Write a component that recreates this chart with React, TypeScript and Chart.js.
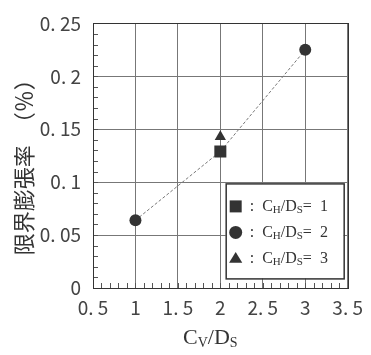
import React, { useEffect, useRef } from "react";
import { Chart, registerables } from "chart.js";

Chart.register(...registerables);

// C_V/D_S values where tests were made
const cvOverDs = [1, 2, 3];
// 限界膨張率 (%) for each C_H/D_S group
const chRatio1 = [null, 0.129, null]; // C_H/D_S = 1
const chRatio2 = [0.064, null, 0.225]; // C_H/D_S = 2
const chRatio3 = [null, 0.143, null]; // C_H/D_S = 3
// trend line through the measured points
const trendY = [0.064, 0.129, 0.225];

const legendLabels = ["1", "2", "3"];
const legendShapes = ["rect", "circle", "triangle"];

const xTicks = [0.5, 1, 1.5, 2, 2.5, 3, 3.5];
const yTicks = [0, 0.05, 0.1, 0.15, 0.2, 0.25];

const MARK = "#333333";
const SERIF = "'Liberation Serif', 'Times New Roman', serif";
const GOTHIC = "'Noto Sans CJK JP', 'Noto Sans', sans-serif";

const toPoints = (ys: (number | null)[]) =>
  cvOverDs
    .map((x, i) => ({ x, y: ys[i] }))
    .filter((p) => p.y !== null) as { x: number; y: number }[];

const fmt = (v: number) => String(Number(v.toFixed(2))).replace(".", ". ");

function drawShape(ctx: CanvasRenderingContext2D, shape: string, x: number, y: number, s: number) {
  ctx.beginPath();
  if (shape === "rect") {
    ctx.rect(x - s, y - s, 2 * s, 2 * s);
  } else if (shape === "circle") {
    ctx.arc(x, y, s + 0.5, 0, Math.PI * 2);
  } else {
    const h = s * 1.8;
    ctx.moveTo(x, y - h * 0.6);
    ctx.lineTo(x + s * 1.1, y + h * 0.4);
    ctx.lineTo(x - s * 1.1, y + h * 0.4);
    ctx.closePath();
  }
  ctx.fill();
}

// text with subscripts: parts of [text, isSub]
function drawRich(
  ctx: CanvasRenderingContext2D,
  parts: [string, boolean][],
  x: number,
  y: number,
  size: number,
  subSize: number,
  align: "left" | "center"
) {
  const widthOf = (t: string, sub: boolean) => {
    ctx.font = `${sub ? subSize : size}px ${SERIF}`;
    return ctx.measureText(t).width;
  };
  const total = parts.reduce((a, [t, s]) => a + widthOf(t, s), 0);
  let cx = align === "center" ? x - total / 2 : x;
  ctx.textAlign = "left";
  ctx.textBaseline = "alphabetic";
  for (const [t, sub] of parts) {
    ctx.font = `${sub ? subSize : size}px ${SERIF}`;
    ctx.fillText(t, cx, sub ? y + size * 0.12 : y);
    cx += ctx.measureText(t).width;
  }
}

const decorations = {
  id: "decorations",
  afterDatasetsDraw(chart: any) {
    const { ctx, chartArea: a, scales } = chart;
    const xs = scales.x;
    const ys = scales.y;
    ctx.save();

    // minor ticks inside the frame
    ctx.strokeStyle = "#555";
    ctx.lineWidth = 1;
    ctx.beginPath();
    for (let i = 1; i < 25; i++) {
      const py = Math.round(ys.getPixelForValue(i / 100)) + 0.5;
      ctx.moveTo(a.left, py);
      ctx.lineTo(a.left + 5, py);
    }
    for (let i = 6; i < 35; i++) {
      const px = Math.round(xs.getPixelForValue(i / 10)) + 0.5;
      ctx.moveTo(px, a.bottom);
      ctx.lineTo(px, a.bottom - 5);
    }
    ctx.stroke();

    // frame
    ctx.strokeStyle = "#333";
    ctx.strokeRect(Math.round(a.left) + 0.5, Math.round(a.top) + 0.5, Math.round(a.width), Math.round(a.height));

    // x axis title
    ctx.fillStyle = "#333";
    drawRich(
      ctx,
      [["C", false], ["V", true], ["/D", false], ["S", true]],
      (a.left + a.right) / 2 - 10,
      a.bottom + 56,
      22,
      14,
      "center"
    );

    // y axis title
    ctx.save();
    ctx.translate(24, (a.top + a.bottom) / 2 + 6);
    ctx.rotate(-Math.PI / 2);
    ctx.font = `22px ${GOTHIC}`;
    ctx.textAlign = "center";
    ctx.textBaseline = "middle";
    ctx.fillText("限界膨張率　（％）", 0, 0);
    ctx.restore();

    // legend
    const bx = a.right - 122;
    const by = a.top + 160;
    ctx.fillStyle = "#fff";
    ctx.fillRect(bx, by, 118, 95);
    ctx.strokeStyle = "#333";
    ctx.lineWidth = 1.5;
    ctx.strokeRect(bx + 0.5, by + 0.5, 118, 95);
    legendLabels.forEach((lab, i) => {
      const ry = by + 23 + i * 26;
      ctx.fillStyle = MARK;
      drawShape(ctx, legendShapes[i], bx + 10, ry, 6);
      ctx.fillStyle = "#333";
      drawRich(
        ctx,
        [[":  C", false], ["H", true], ["/D", false], ["S", true], ["=  " + lab, false]],
        bx + 24,
        ry + 5,
        16,
        11,
        "left"
      );
    });
    ctx.restore();
  },
};

export default function App() {
  const ref = useRef<HTMLCanvasElement | null>(null);

  useEffect(() => {
    if (!ref.current) return;
    const chart = new Chart(ref.current, {
      type: "scatter",
      data: {
        datasets: [
          {
            label: "trend",
            data: toPoints(trendY),
            showLine: true,
            borderColor: "#777",
            borderWidth: 1,
            borderDash: [3, 2],
            pointRadius: 0,
            order: 5,
          },
          {
            label: "C_H/D_S = 1",
            data: toPoints(chRatio1),
            pointStyle: "rect",
            pointRadius: 8.5,
            backgroundColor: MARK,
            borderColor: MARK,
            borderWidth: 0,
            order: 1,
          },
          {
            label: "C_H/D_S = 2",
            data: toPoints(chRatio2),
            pointStyle: "circle",
            pointRadius: 6,
            backgroundColor: MARK,
            borderColor: MARK,
            borderWidth: 0,
            order: 1,
          },
          {
            label: "C_H/D_S = 3",
            data: toPoints(chRatio3),
            pointStyle: "triangle",
            pointRadius: 6.5,
            backgroundColor: MARK,
            borderColor: MARK,
            borderWidth: 0,
            order: 1,
          },
        ],
      },
      options: {
        responsive: false,
        animation: false,
        layout: { padding: { top: 15, right: 17, left: 0, bottom: 0 } },
        plugins: { legend: { display: false }, tooltip: { enabled: false } },
        scales: {
          x: {
            type: "linear",
            min: xTicks[0],
            max: xTicks[xTicks.length - 1],
            afterFit: (s: any) => {
              s.height = 67;
            },
            afterBuildTicks: (s: any) => {
              s.ticks = xTicks.map((v) => ({ value: v }));
            },
            grid: { color: "#777", lineWidth: 1, drawTicks: false },
            border: { display: false },
            ticks: {
              padding: 8,
              color: "#444",
              font: { family: GOTHIC, size: 19 },
              callback: (v: any) => fmt(Number(v)),
            },
          },
          y: {
            type: "linear",
            min: yTicks[0],
            max: yTicks[yTicks.length - 1],
            afterFit: (s: any) => {
              s.width = 93;
            },
            afterBuildTicks: (s: any) => {
              s.ticks = yTicks.map((v) => ({ value: v }));
            },
            grid: { color: "#777", lineWidth: 1, drawTicks: false },
            border: { display: false },
            ticks: {
              padding: 12,
              color: "#444",
              font: { family: GOTHIC, size: 19 },
              callback: (v: any) => fmt(Number(v)),
            },
          },
        },
      },
      plugins: [decorations],
    });
    return () => chart.destroy();
  }, []);

  return (
    <div style={{ position: "absolute", left: 0, top: 0, width: 371, height: 355, background: "#fff" }}>
      <canvas ref={ref} width={371} height={355} />
    </div>
  );
}
